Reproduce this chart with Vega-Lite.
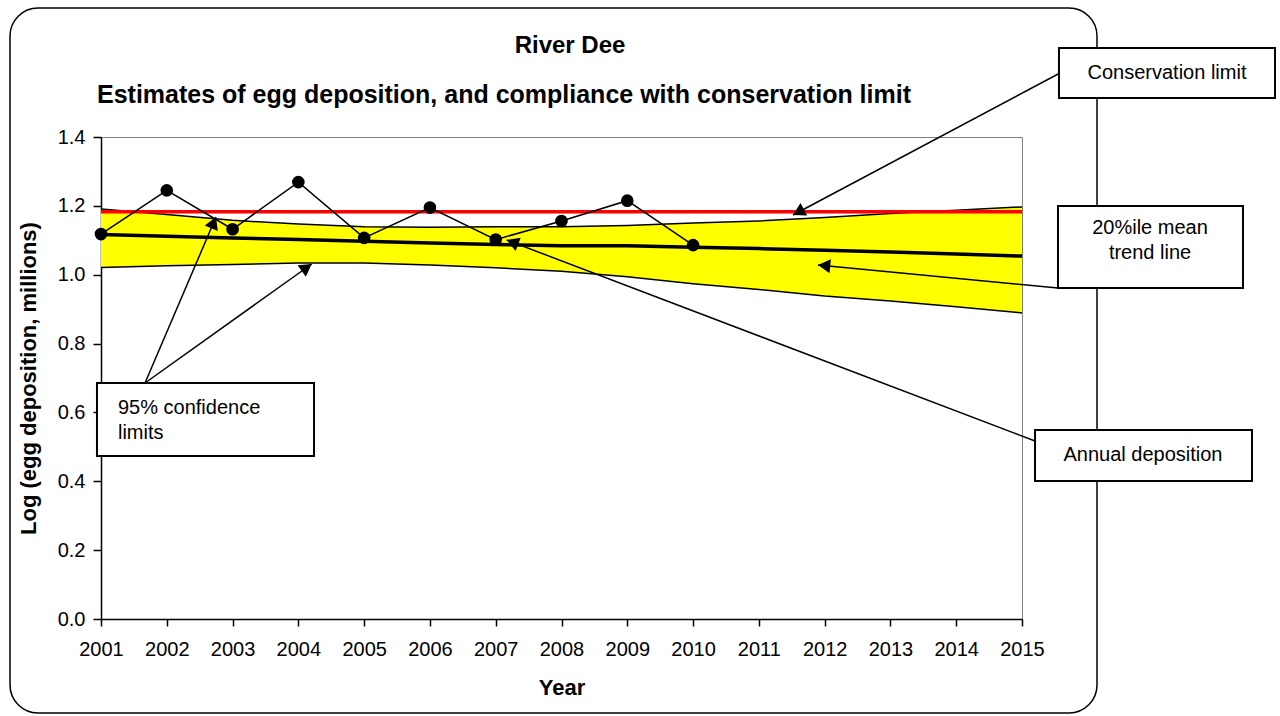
{
  "$schema": "https://vega.github.io/schema/vega-lite/v6.json",
  "width": 921,
  "height": 482,
  "autosize": {"type": "none"},
  "padding": {"left": 101, "top": 137, "right": 258, "bottom": 97},
  "background": "white",
  "config": {"view": {"stroke": "#808080", "strokeWidth": 1}, "font": "Liberation Sans"},
  "datasets": {
    "series": [
      {"year": 2001, "deposition": 1.118, "trend": 1.117, "lower": 1.021, "upper": 1.191, "limit": 1.183},
      {"year": 2002, "deposition": 1.245, "trend": 1.112, "lower": 1.026, "upper": 1.175, "limit": 1.183},
      {"year": 2003, "deposition": 1.132, "trend": 1.107, "lower": 1.030, "upper": 1.158, "limit": 1.183},
      {"year": 2004, "deposition": 1.269, "trend": 1.102, "lower": 1.034, "upper": 1.147, "limit": 1.183},
      {"year": 2005, "deposition": 1.107, "trend": 1.097, "lower": 1.034, "upper": 1.139, "limit": 1.183},
      {"year": 2006, "deposition": 1.195, "trend": 1.092, "lower": 1.028, "upper": 1.138, "limit": 1.183},
      {"year": 2007, "deposition": 1.102, "trend": 1.088, "lower": 1.020, "upper": 1.139, "limit": 1.183},
      {"year": 2008, "deposition": 1.156, "trend": 1.084, "lower": 1.010, "upper": 1.139, "limit": 1.183},
      {"year": 2009, "deposition": 1.215, "trend": 1.084, "lower": 0.994, "upper": 1.143, "limit": 1.183},
      {"year": 2010, "deposition": 1.086, "trend": 1.080, "lower": 0.974, "upper": 1.150, "limit": 1.183},
      {"year": 2011, "deposition": null, "trend": 1.076, "lower": 0.957, "upper": 1.156, "limit": 1.183},
      {"year": 2012, "deposition": null, "trend": 1.071, "lower": 0.938, "upper": 1.166, "limit": 1.183},
      {"year": 2013, "deposition": null, "trend": 1.066, "lower": 0.924, "upper": 1.178, "limit": 1.183},
      {"year": 2014, "deposition": null, "trend": 1.060, "lower": 0.907, "upper": 1.187, "limit": 1.183},
      {"year": 2015, "deposition": null, "trend": 1.054, "lower": 0.889, "upper": 1.197, "limit": 1.183}
    ],
    "frame": [{"x": 1999.617, "x2": 2016.14, "y": 1.7747, "y2": -0.273}],
    "boxes": [
      {"name": "Conservation limit", "x": 2015.562, "x2": 2018.846, "y": 1.6585, "y2": 1.5133},
      {"name": "20%ile mean trend line", "x": 2015.547, "x2": 2018.359, "y": 1.1996, "y2": 0.9614},
      {"name": "Annual deposition", "x": 2015.198, "x2": 2018.496, "y": 0.549, "y2": 0.4008},
      {"name": "95% confidence limits", "x": 2000.939, "x2": 2004.238, "y": 0.6855, "y2": 0.4734}
    ],
    "arrows": [
      {"id": "a", "x": 2015.578, "y": 1.5859, "x2": 2011.519, "y2": 1.1734},
      {"id": "b", "x": 2015.547, "y": 0.9614, "x2": 2011.899, "y2": 1.0282},
      {"id": "c", "x": 2015.198, "y": 0.517, "x2": 2007.167, "y2": 1.1008},
      {"id": "d", "x": 2001.669, "y": 0.6855, "x2": 2002.748, "y2": 1.1676},
      {"id": "e", "x": 2001.669, "y": 0.6855, "x2": 2004.203, "y2": 1.0311}
    ],
    "heads": [
      {"id": "a", "x": 2011.601, "y": 1.1818},
      {"id": "b", "x": 2011.992, "y": 1.0265},
      {"id": "c", "x": 2007.254, "y": 1.0944},
      {"id": "d", "x": 2002.712, "y": 1.1513},
      {"id": "e", "x": 2004.127, "y": 1.0209}
    ],
    "labels": [
      {"kind": "title", "text": "River Dee", "x": 2008.129, "y": 1.644},
      {"kind": "subtitle", "text": "Estimates of egg deposition, and compliance with conservation limit", "x": 2007.126, "y": 1.4987},
      {"kind": "center", "text": "Conservation limit", "x": 2017.204, "y": 1.5859},
      {"kind": "center", "text": "20%ile mean\ntrend line", "x": 2016.946, "y": 1.1357},
      {"kind": "center", "text": "Annual deposition", "x": 2016.839, "y": 0.4763},
      {"kind": "left", "text": "95% confidence\nlimits", "x": 2001.258, "y": 0.6129}
    ]
  },
  "layer": [
    {
      "data": {"name": "series"},
      "mark": {"type": "area", "color": "#FFFF00", "opacity": 1},
      "encoding": {
        "x": {"field": "year", "type": "quantitative", "scale": {"domain": [2001, 2015], "nice": false, "zero": false},
          "axis": {"values": [2001, 2002, 2003, 2004, 2005, 2006, 2007, 2008, 2009, 2010, 2011, 2012, 2013, 2014, 2015], "format": "d",
            "title": "Year", "titleFontSize": 22, "titleFontWeight": "bold", "titleColor": "black", "titlePadding": 18, "titleFont": "Liberation Sans",
            "labelFontSize": 20, "labelColor": "black", "labelPadding": 13, "labelFlush": false, "labelOverlap": false, "labelFont": "Liberation Sans",
            "tickSize": 7, "tickColor": "black", "tickWidth": 1.5, "domainColor": "black", "domainWidth": 1.5, "grid": false}},
        "y": {"field": "lower", "type": "quantitative", "scale": {"domain": [0, 1.4], "nice": false, "zero": false},
          "axis": {"values": [0, 0.2, 0.4, 0.6, 0.8, 1.0, 1.2, 1.4], "format": ".1f",
            "title": "Log (egg deposition, millions)", "titleFontSize": 22, "titleFontWeight": "bold", "titleColor": "black", "titlePadding": 17, "titleFont": "Liberation Sans",
            "labelFontSize": 20, "labelColor": "black", "labelPadding": 8, "labelFont": "Liberation Sans",
            "tickSize": 8, "tickColor": "black", "tickWidth": 1.5, "domainColor": "black", "domainWidth": 1.5, "grid": false}},
        "y2": {"field": "upper"}
      }
    },
    {
      "data": {"name": "frame"},
      "mark": {"type": "rect", "filled": false, "stroke": "black", "strokeWidth": 1.5, "cornerRadius": 28},
      "encoding": {
        "x": {"field": "x", "type": "quantitative"},
        "x2": {"field": "x2"},
        "y": {"field": "y", "type": "quantitative"},
        "y2": {"field": "y2"}
      }
    },
    {
      "data": {"name": "series"},
      "mark": {"type": "line", "color": "black", "strokeWidth": 1.5},
      "encoding": {
        "x": {"field": "year", "type": "quantitative"},
        "y": {"field": "upper", "type": "quantitative"}
      }
    },
    {
      "data": {"name": "series"},
      "mark": {"type": "line", "color": "black", "strokeWidth": 1.5},
      "encoding": {
        "x": {"field": "year", "type": "quantitative"},
        "y": {"field": "lower", "type": "quantitative"}
      }
    },
    {
      "data": {"name": "series"},
      "mark": {"type": "line", "color": "#FF0000", "strokeWidth": 3.5},
      "encoding": {
        "x": {"field": "year", "type": "quantitative"},
        "y": {"field": "limit", "type": "quantitative"}
      }
    },
    {
      "data": {"name": "series"},
      "mark": {"type": "line", "color": "black", "strokeWidth": 3.5},
      "encoding": {
        "x": {"field": "year", "type": "quantitative"},
        "y": {"field": "trend", "type": "quantitative"}
      }
    },
    {
      "data": {"name": "series"},
      "transform": [{"filter": "isValid(datum.deposition)"}],
      "mark": {"type": "line", "color": "black", "strokeWidth": 1.5},
      "encoding": {
        "x": {"field": "year", "type": "quantitative"},
        "y": {"field": "deposition", "type": "quantitative"}
      }
    },
    {
      "data": {"name": "series"},
      "transform": [{"filter": "isValid(datum.deposition)"}],
      "mark": {"type": "point", "shape": "circle", "filled": true, "color": "black", "opacity": 1, "size": 160},
      "encoding": {
        "x": {"field": "year", "type": "quantitative"},
        "y": {"field": "deposition", "type": "quantitative"}
      }
    },
    {
      "data": {"name": "arrows"},
      "mark": {"type": "rule", "color": "black", "strokeWidth": 1.5},
      "encoding": {
        "x": {"field": "x", "type": "quantitative"},
        "y": {"field": "y", "type": "quantitative"},
        "x2": {"field": "x2"},
        "y2": {"field": "y2"}
      }
    },
    {
      "data": {"name": "heads"},
      "transform": [{"filter": "datum.id == 'a'"}],
      "mark": {"type": "point", "shape": "triangle-up", "filled": true, "color": "black", "opacity": 1, "size": 200, "angle": 242},
      "encoding": {"x": {"field": "x", "type": "quantitative"}, "y": {"field": "y", "type": "quantitative"}}
    },
    {
      "data": {"name": "heads"},
      "transform": [{"filter": "datum.id == 'b'"}],
      "mark": {"type": "point", "shape": "triangle-up", "filled": true, "color": "black", "opacity": 1, "size": 200, "angle": 275.5},
      "encoding": {"x": {"field": "x", "type": "quantitative"}, "y": {"field": "y", "type": "quantitative"}}
    },
    {
      "data": {"name": "heads"},
      "transform": [{"filter": "datum.id == 'c'"}],
      "mark": {"type": "point", "shape": "triangle-up", "filled": true, "color": "black", "opacity": 1, "size": 200, "angle": 290.8},
      "encoding": {"x": {"field": "x", "type": "quantitative"}, "y": {"field": "y", "type": "quantitative"}}
    },
    {
      "data": {"name": "heads"},
      "transform": [{"filter": "datum.id == 'd'"}],
      "mark": {"type": "point", "shape": "triangle-up", "filled": true, "color": "black", "opacity": 1, "size": 200, "angle": 23.1},
      "encoding": {"x": {"field": "x", "type": "quantitative"}, "y": {"field": "y", "type": "quantitative"}}
    },
    {
      "data": {"name": "heads"},
      "transform": [{"filter": "datum.id == 'e'"}],
      "mark": {"type": "point", "shape": "triangle-up", "filled": true, "color": "black", "opacity": 1, "size": 200, "angle": 54.5},
      "encoding": {"x": {"field": "x", "type": "quantitative"}, "y": {"field": "y", "type": "quantitative"}}
    },
    {
      "data": {"name": "boxes"},
      "mark": {"type": "rect", "fill": "white", "stroke": "black", "strokeWidth": 2},
      "encoding": {
        "x": {"field": "x", "type": "quantitative"},
        "x2": {"field": "x2"},
        "y": {"field": "y", "type": "quantitative"},
        "y2": {"field": "y2"}
      }
    },
    {
      "data": {"name": "labels"},
      "transform": [{"filter": "datum.kind == 'title'"}],
      "mark": {"type": "text", "font": "Liberation Sans", "fontSize": 24, "fontWeight": "bold", "color": "black", "align": "center", "baseline": "alphabetic"},
      "encoding": {
        "x": {"field": "x", "type": "quantitative"},
        "y": {"field": "y", "type": "quantitative"},
        "text": {"field": "text"}
      }
    },
    {
      "data": {"name": "labels"},
      "transform": [{"filter": "datum.kind == 'subtitle'"}],
      "mark": {"type": "text", "font": "Liberation Sans", "fontSize": 25, "fontWeight": "bold", "color": "black", "align": "center", "baseline": "alphabetic"},
      "encoding": {
        "x": {"field": "x", "type": "quantitative"},
        "y": {"field": "y", "type": "quantitative"},
        "text": {"field": "text"}
      }
    },
    {
      "data": {"name": "labels"},
      "transform": [{"filter": "datum.kind == 'center'"}],
      "mark": {"type": "text", "font": "Liberation Sans", "fontSize": 20, "color": "black", "align": "center", "baseline": "middle", "lineBreak": "\n", "lineHeight": 25},
      "encoding": {
        "x": {"field": "x", "type": "quantitative"},
        "y": {"field": "y", "type": "quantitative"},
        "text": {"field": "text"}
      }
    },
    {
      "data": {"name": "labels"},
      "transform": [{"filter": "datum.kind == 'left'"}],
      "mark": {"type": "text", "font": "Liberation Sans", "fontSize": 20, "color": "black", "align": "left", "baseline": "middle", "lineBreak": "\n", "lineHeight": 25},
      "encoding": {
        "x": {"field": "x", "type": "quantitative"},
        "y": {"field": "y", "type": "quantitative"},
        "text": {"field": "text"}
      }
    }
  ]
}
